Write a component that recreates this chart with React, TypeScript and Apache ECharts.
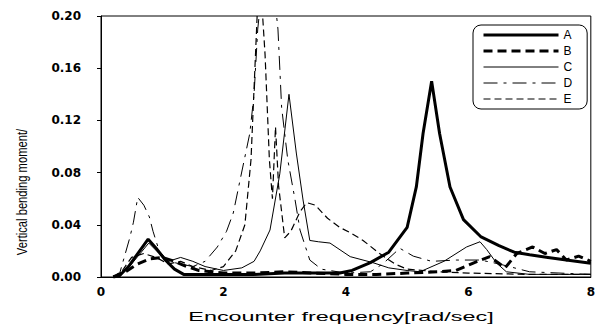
import React, { useEffect, useRef } from "react";
import * as echarts from "echarts";

const seriesNames = ["A", "B", "C", "D", "E"];

const aFreq = [0.2, 0.3, 0.45, 0.6, 0.77, 0.9, 1.05, 1.2, 1.35, 1.6, 2.0, 2.5, 3.0, 3.5, 3.9, 4.1, 4.4, 4.7, 5.0, 5.15, 5.26, 5.4, 5.53, 5.7, 5.92, 6.2, 6.5, 6.75, 7.0, 7.3, 7.6, 8.0];
const aVal = [0, 0.001, 0.008, 0.018, 0.029, 0.022, 0.013, 0.006, 0.002, 0.002, 0.002, 0.002, 0.003, 0.003, 0.003, 0.005, 0.011, 0.019, 0.038, 0.069, 0.11, 0.15, 0.11, 0.069, 0.044, 0.031, 0.024, 0.019, 0.017, 0.015, 0.013, 0.0105];

const bFreq = [0.2, 0.4, 0.6, 0.8, 1.0, 1.2, 1.4, 1.6, 2.0, 2.5, 3.0, 3.5, 4.0, 4.5, 5.0, 5.5, 5.8, 6.08, 6.35, 6.6, 6.79, 7.05, 7.25, 7.44, 7.6, 7.8, 8.0];
const bVal = [0, 0.004, 0.01, 0.014, 0.015, 0.012, 0.008, 0.005, 0.003, 0.003, 0.004, 0.003, 0.002, 0.002, 0.003, 0.004, 0.005, 0.0107, 0.0156, 0.007, 0.018, 0.023, 0.018, 0.021, 0.013, 0.016, 0.012];

const cFreq = [0.3, 0.5, 0.78, 0.95, 1.1, 1.3, 1.5, 1.7, 2.0, 2.3, 2.5, 2.6, 2.76, 2.92, 3.07, 3.19, 3.3, 3.41, 3.55, 3.74, 4.07, 4.44, 4.7, 5.0, 5.21, 5.6, 5.97, 6.19, 6.3, 6.46, 6.62, 7.0, 8.0];
const cVal = [0, 0.01, 0.026, 0.018, 0.012, 0.015, 0.012, 0.008, 0.005, 0.007, 0.012, 0.02, 0.036, 0.079, 0.14, 0.095, 0.059, 0.028, 0.027, 0.026, 0.0156, 0.011, 0.007, 0.005, 0.004, 0.012, 0.023, 0.027, 0.021, 0.0107, 0.004, 0.002, 0.002];

const dFreq = [0.2, 0.3, 0.47, 0.53, 0.6, 0.7, 0.79, 0.85, 0.95, 1.1, 1.3, 1.5, 1.7, 1.9, 2.05, 2.16, 2.27, 2.43, 2.5, 2.56, 2.65, 2.8, 2.89, 2.95, 3.05, 3.17, 3.25, 3.41, 3.6, 4.0, 4.4, 4.6, 4.88, 5.1, 5.4, 5.8, 6.2, 6.5, 7.0, 8.0];
const dVal = [0, 0.002, 0.03, 0.042, 0.061, 0.055, 0.046, 0.035, 0.02, 0.012, 0.01, 0.008, 0.012, 0.023, 0.035, 0.049, 0.074, 0.11, 0.14, 0.19, 0.23, 0.23, 0.19, 0.13, 0.09, 0.059, 0.036, 0.013, 0.006, 0.003, 0.004, 0.01, 0.022, 0.016, 0.012, 0.013, 0.013, 0.01, 0.004, 0.002];

const eFreq = [0.2, 0.35, 0.5, 0.7, 0.9, 1.1, 1.3, 1.5, 1.8, 2.0, 2.2, 2.35, 2.45, 2.55, 2.6, 2.68, 2.75, 2.8, 2.85, 2.9, 3.0, 3.1, 3.25, 3.36, 3.5, 3.7, 3.9, 4.07, 4.28, 4.55, 4.8, 5.0, 5.5, 6.0, 7.0, 8.0];
const eVal = [0, 0.005, 0.015, 0.018, 0.015, 0.01, 0.012, 0.008, 0.005, 0.008, 0.02, 0.04, 0.09, 0.2, 0.23, 0.17, 0.09, 0.06, 0.115, 0.07, 0.03, 0.035, 0.05, 0.057, 0.055, 0.045, 0.038, 0.034, 0.028, 0.018, 0.01, 0.006, 0.004, 0.003, 0.002, 0.002];

const xTitle = "Encounter frequency[rad/sec]";
const yTitle = "Vertical bending moment/";

const pairs = (xs: number[], ys: number[]) => xs.map((x, i) => [x, ys[i]]);

export default function App() {
  const ref = useRef<HTMLDivElement>(null);
  useEffect(() => {
    if (!ref.current) return;
    const chart = echarts.init(ref.current, undefined, { renderer: "svg" });
    const styles = [
      { width: 3, type: "solid" as any },
      { width: 3, type: [9, 5] as any },
      { width: 1, type: "solid" as any },
      { width: 1, type: [14, 6, 3, 6] as any },
      { width: 1.2, type: [7, 4] as any },
    ];
    const datasets = [
      pairs(aFreq, aVal),
      pairs(bFreq, bVal),
      pairs(cFreq, cVal),
      pairs(dFreq, dVal),
      pairs(eFreq, eVal),
    ];
    chart.setOption({
      animation: false,
      backgroundColor: "#fff",
      grid: {
        left: 101,
        right: 7,
        top: 16,
        bottom: 52,
        show: true,
        borderColor: "#000",
        borderWidth: 1,
        containLabel: false,
      },
      legend: {
        orient: "vertical",
        left: 473,
        top: 25,
        itemWidth: 75,
        itemHeight: 12,
        itemGap: 4,
        borderColor: "#000",
        borderWidth: 1,
        borderRadius: 8,
        padding: [4, 15, 4, 9],
        backgroundColor: "#fff",
        itemStyle: { opacity: 0 },
        textStyle: { fontFamily: "Liberation Sans", fontSize: 12, color: "#000" },
        data: seriesNames.map((name, i) => ({
          name,
          lineStyle: { width: styles[i].width, type: styles[i].type, color: "#000" },
        })),
      },
      xAxis: {
        type: "value",
        min: 0,
        max: 8,
        interval: 2,
        axisLine: { show: true, lineStyle: { color: "#000", width: 1 } },
        axisTick: { show: false },
        splitLine: { show: false },
        axisLabel: {
          margin: 9,
          fontFamily: "DejaVu Sans",
          fontWeight: "bold",
          fontSize: 12,
          color: "#000",
        },
      },
      yAxis: {
        type: "value",
        min: 0,
        max: 0.2,
        interval: 0.04,
        axisLine: { show: true, lineStyle: { color: "#000", width: 1 } },
        axisTick: { show: true, length: 4, lineStyle: { color: "#000" } },
        splitLine: { show: false },
        axisLabel: {
          margin: 20,
          fontFamily: "DejaVu Sans",
          fontWeight: "bold",
          fontSize: 12,
          color: "#000",
          formatter: (v: number) => v.toFixed(2),
        },
      },
      graphic: [
        {
          type: "text",
          x: 341,
          y: 317,
          scaleX: 1.8,
          style: {
            text: xTitle,
            fill: "#000",
            font: "13px 'Liberation Sans'",
            align: "center",
            verticalAlign: "middle",
          },
        },
        {
          type: "text",
          x: 22,
          y: 192,
          rotation: Math.PI / 2,
          scaleX: 0.83,
          scaleY: 1.1,
          style: {
            text: yTitle,
            fill: "#000",
            font: "13.5px 'Liberation Sans'",
            align: "center",
            verticalAlign: "middle",
          },
        },
      ],
      series: seriesNames.map((name, i) => ({
        name,
        type: "line",
        data: datasets[i],
        symbol: "none",
        smooth: false,
        clip: true,
        lineStyle: { color: "#000", width: styles[i].width, type: styles[i].type },
        itemStyle: { color: "#000" },
        z: 5 - i,
      })),
    });
    return () => chart.dispose();
  }, []);
  return (
    <div
      ref={ref}
      style={{ position: "fixed", left: 0, top: 0, width: 598, height: 329, background: "#fff" }}
    />
  );
}
